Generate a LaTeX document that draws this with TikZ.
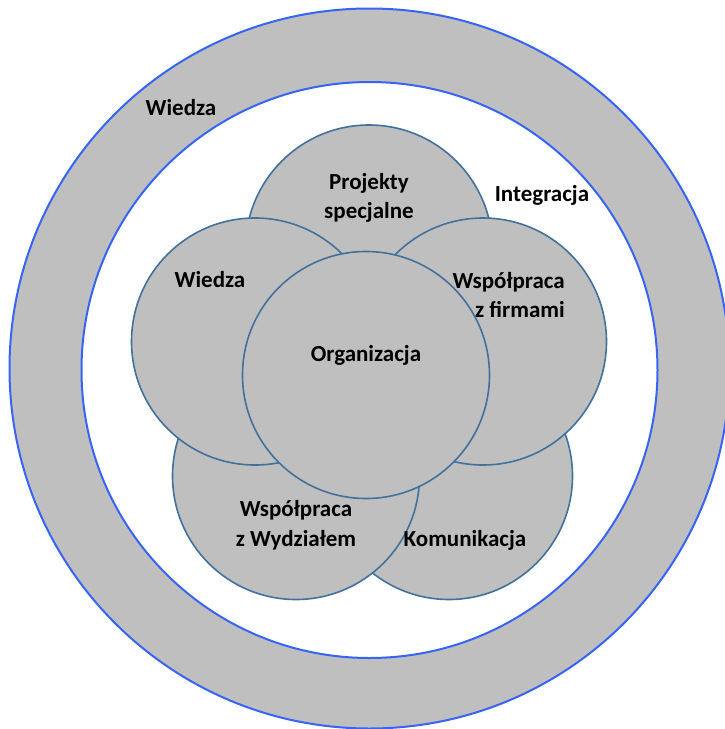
\documentclass[tikz,border=0pt]{standalone}
\usepackage{fontspec}
\setmainfont{Carlito}
\begin{document}
\begin{tikzpicture}[x=1pt,y=-1pt,
  ringline/.style={draw=ringblue,line width=2pt},
  petal/.style={circle,draw=petalblue,fill=petalgray,line width=1.6pt,minimum size=247pt,inner sep=0pt},
  lbl/.style={font=\fontsize{23}{29}\selectfont\bfseries,inner sep=0pt,anchor=base}]
\definecolor{ringblue}{RGB}{55,100,245}
\definecolor{petalblue}{RGB}{65,113,156}
\definecolor{petalgray}{RGB}{191,191,191}
\useasboundingbox (0,0) rectangle (725,729);

% outer ring
\fill[petalgray,even odd rule] (369.5,368.5) circle[radius=360] (369.5,370) circle[radius=288];
\draw[ringline] (369.5,368.5) circle[radius=360];
\draw[ringline] (369.5,370) circle[radius=288];

% petals, back to front
\node[petal] (proj) at (369,248.5) {};
\node[petal] (kom) at (449,476) {};
\node[petal] (wyd) at (296,476) {};
\node[petal] (wie) at (255,341.5) {};
\node[petal] (fir) at (483,341.5) {};
\node[petal] (org) at (366,375) {};

% labels
\node[lbl] (ringwiedza) at (181,115) {Wiedza};
\node[lbl] (integracja) at (542,201) {Integracja};
\node[lbl] (projA) at (369,189) {Projekty};
\node[lbl] (projB) at (369,218) {specjalne};
\node[lbl] (wiedza) at (210,287) {Wiedza};
\node[lbl,anchor=base east] (firA) at (565,288) {Współpraca};
\node[lbl,anchor=base east] (firB) at (565,317.5) {z firmami};
\node[lbl] (organizacja) at (366,361) {Organizacja};
\node[lbl] (wydA) at (296,516.5) {Współpraca};
\node[lbl] (wydB) at (296,546.5) {z Wydziałem};
\node[lbl] (komunikacja) at (465,546.5) {Komunikacja};
\end{tikzpicture}
\end{document}
